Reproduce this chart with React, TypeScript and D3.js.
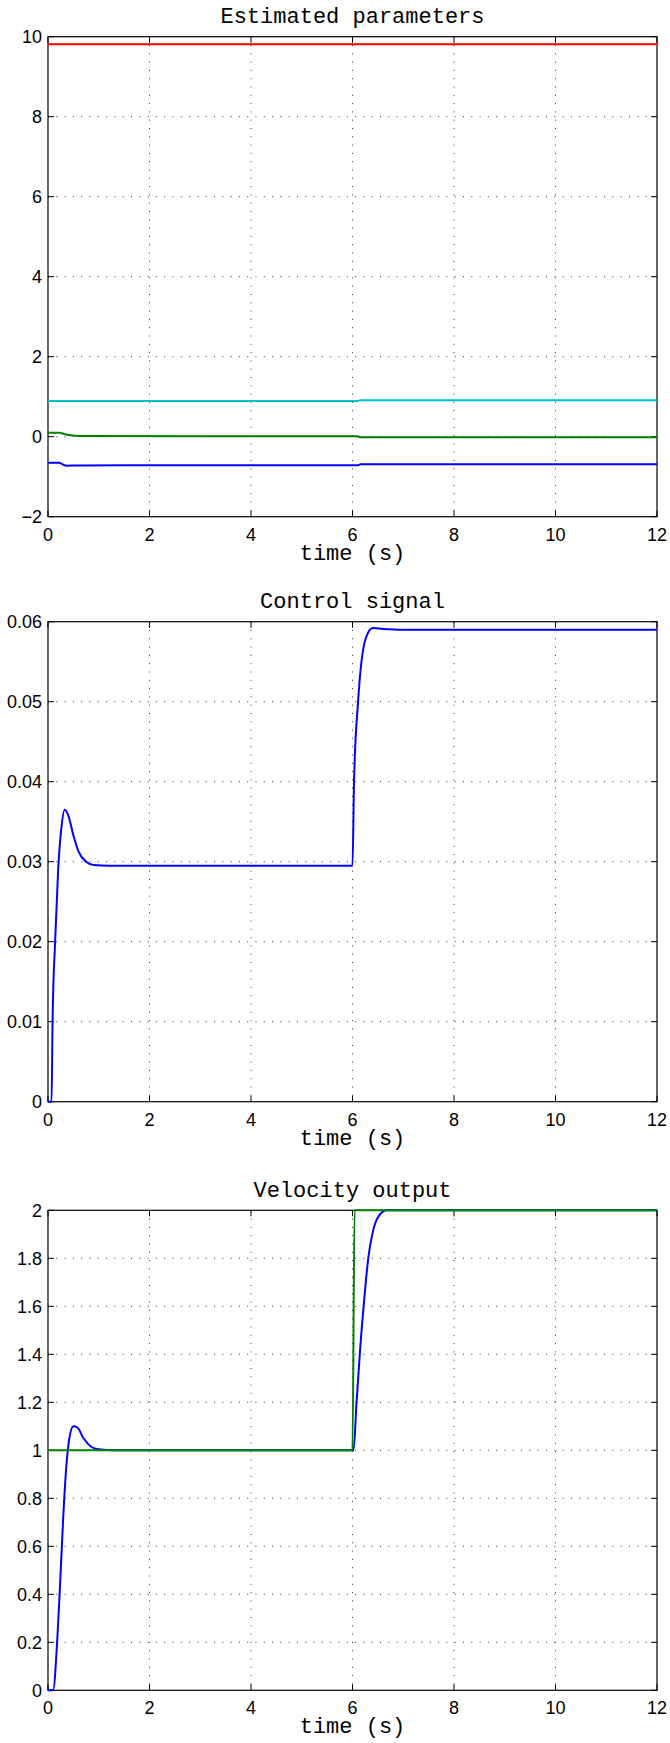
import React from "react";
import * as d3 from "d3";

// Time axis shared by all three panels
const timeTicks = [0, 2, 4, 6, 8, 10, 12];

// Panel 1: estimated parameters, [time, value] pairs
const gravityEstimate: [number, number][] = [[0, 9.81], [12, 9.81]];
const cyanEstimate: [number, number][] = [[0, 0.892], [6.1, 0.892], [6.16, 0.91], [12, 0.91]];
const greenEstimate: [number, number][] = [
  [0, 0.1], [0.22, 0.1], [0.3, 0.075], [0.4, 0.04], [0.55, 0.022], [0.7, 0.015],
  [6.1, 0.01], [6.16, -0.013], [12, -0.013],
];
const blueEstimate: [number, number][] = [
  [0, -0.65], [0.22, -0.65], [0.3, -0.7], [0.37, -0.725], [0.6, -0.72], [1.5, -0.715],
  [6.1, -0.715], [6.16, -0.69], [12, -0.69],
];
const paramTicks = [-2, 0, 2, 4, 6, 8, 10];

// Panel 2: control signal
const controlSignal: [number, number][] = [
  [0, 0], [0.07, 0], [0.09, 0.01], [0.14, 0.02], [0.2, 0.029], [0.26, 0.034],
  [0.33, 0.0365], [0.4, 0.0358], [0.5, 0.0333], [0.6, 0.0313], [0.75, 0.03],
  [0.9, 0.0296], [1.2, 0.0295], [6.0, 0.0295], [6.03, 0.04], [6.11, 0.05],
  [6.26, 0.0579], [6.4, 0.0592], [6.6, 0.0591], [7, 0.059], [12, 0.059],
];
const controlTicks = [0, 0.01, 0.02, 0.03, 0.04, 0.05, 0.06];

// Panel 3: velocity output and reference
const velocityOutput: [number, number][] = [
  [0, 0], [0.1, 0], [0.18, 0.2], [0.24, 0.45], [0.3, 0.72], [0.36, 0.93],
  [0.42, 1.05], [0.5, 1.1], [0.58, 1.095], [0.7, 1.05], [0.85, 1.015],
  [1.0, 1.004], [1.3, 1.0], [6.02, 1.0], [6.08, 1.2], [6.15, 1.42],
  [6.23, 1.626], [6.31, 1.8], [6.4, 1.91], [6.5, 1.97], [6.67, 2.0], [12, 2.0],
];
const velocityReference: [number, number][] = [[0, 1], [6.0, 1], [6.04, 2], [12, 2]];
const velocityTicks = [0, 0.2, 0.4, 0.6, 0.8, 1, 1.2, 1.4, 1.6, 1.8, 2];

type Series = { data: [number, number][]; color: string };
type Panel = {
  title: string;
  top: number;
  domain: [number, number];
  ticks: number[];
  series: Series[];
};

const panels: Panel[] = [
  {
    title: "Estimated parameters",
    top: 36.7,
    domain: [-2, 10],
    ticks: paramTicks,
    series: [
      { data: gravityEstimate, color: "#ff0000" },
      { data: cyanEstimate, color: "#00bfbf" },
      { data: greenEstimate, color: "#008000" },
      { data: blueEstimate, color: "#0000ff" },
    ],
  },
  {
    title: "Control signal",
    top: 621.7,
    domain: [0, 0.06],
    ticks: controlTicks,
    series: [{ data: controlSignal, color: "#0000ff" }],
  },
  {
    title: "Velocity output",
    top: 1210.3,
    domain: [0, 2],
    ticks: velocityTicks,
    series: [
      { data: velocityOutput, color: "#0000ff" },
      { data: velocityReference, color: "#008000" },
    ],
  },
];

const W = 670;
const H = 1743;
const left = 48;
const right = 657;
const plotH = 480;
const tickLen = 6;
const tickFont = "'Liberation Sans', Arial, Helvetica, sans-serif";
const monoFont = "'Liberation Mono', 'Courier New', monospace";

function PanelView({ p }: { p: Panel }) {
  const x = d3.scaleLinear().domain([0, 12]).range([left, right]);
  const y = d3.scaleLinear().domain(p.domain).range([p.top + plotH, p.top]);
  const line = d3
    .line<[number, number]>()
    .x((d) => x(d[0]))
    .y((d) => y(d[1]))
    .curve(d3.curveMonotoneX);
  const bottom = p.top + plotH;
  const fmt = (v: number) => String(+v.toFixed(4));
  return (
    <g>
      {/* dotted grid */}
      {timeTicks.slice(1, -1).map((t) => (
        <line key={"gx" + t} x1={x(t)} x2={x(t)} y1={p.top} y2={bottom}
          stroke="#333" strokeWidth={1} strokeDasharray="1 7.3" />
      ))}
      {p.ticks.slice(1, -1).map((v) => (
        <line key={"gy" + v} x1={left} x2={right} y1={y(v)} y2={y(v)}
          stroke="#333" strokeWidth={1} strokeDasharray="1 7.3" />
      ))}
      {/* frame */}
      <rect x={left} y={p.top} width={right - left} height={plotH}
        fill="none" stroke="#000" strokeWidth={1.2} />
      {/* inward ticks on all four sides */}
      {timeTicks.map((t) => (
        <g key={"tx" + t}>
          <line x1={x(t)} x2={x(t)} y1={bottom} y2={bottom - tickLen} stroke="#000" />
          <line x1={x(t)} x2={x(t)} y1={p.top} y2={p.top + tickLen} stroke="#000" />
          <text x={x(t)} y={bottom + 24} textAnchor="middle" fontFamily={tickFont}
            fontSize={18} fill="#000">{t}</text>
        </g>
      ))}
      {p.ticks.map((v) => (
        <g key={"ty" + v}>
          <line x1={left} x2={left + tickLen} y1={y(v)} y2={y(v)} stroke="#000" />
          <line x1={right} x2={right - tickLen} y1={y(v)} y2={y(v)} stroke="#000" />
          <text x={42} y={y(v) + 6.5} textAnchor="end" fontFamily={tickFont}
            fontSize={18} fill="#000">{v < 0 ? "\u2212" + fmt(-v) : fmt(v)}</text>
        </g>
      ))}
      {/* data */}
      {p.series.map((s, i) => (
        <path key={i} d={line(s.data) ?? ""} fill="none" stroke={s.color}
          strokeWidth={2} strokeLinejoin="round" />
      ))}
      <text x={(left + right) / 2} y={p.top - 13.5} textAnchor="middle"
        fontFamily={monoFont} fontSize={22} fill="#000">{p.title}</text>
      <text x={(left + right) / 2} y={bottom + 43} textAnchor="middle"
        fontFamily={monoFont} fontSize={22} fill="#000">time (s)</text>
    </g>
  );
}

export default function App() {
  return (
    <div style={{ position: "absolute", left: 0, top: 0 }}>
      <svg width={W} height={H} viewBox={`0 0 ${W} ${H}`} style={{ display: "block", background: "#fff" }}>
        {panels.map((p) => (
          <PanelView key={p.title} p={p} />
        ))}
      </svg>
    </div>
  );
}
